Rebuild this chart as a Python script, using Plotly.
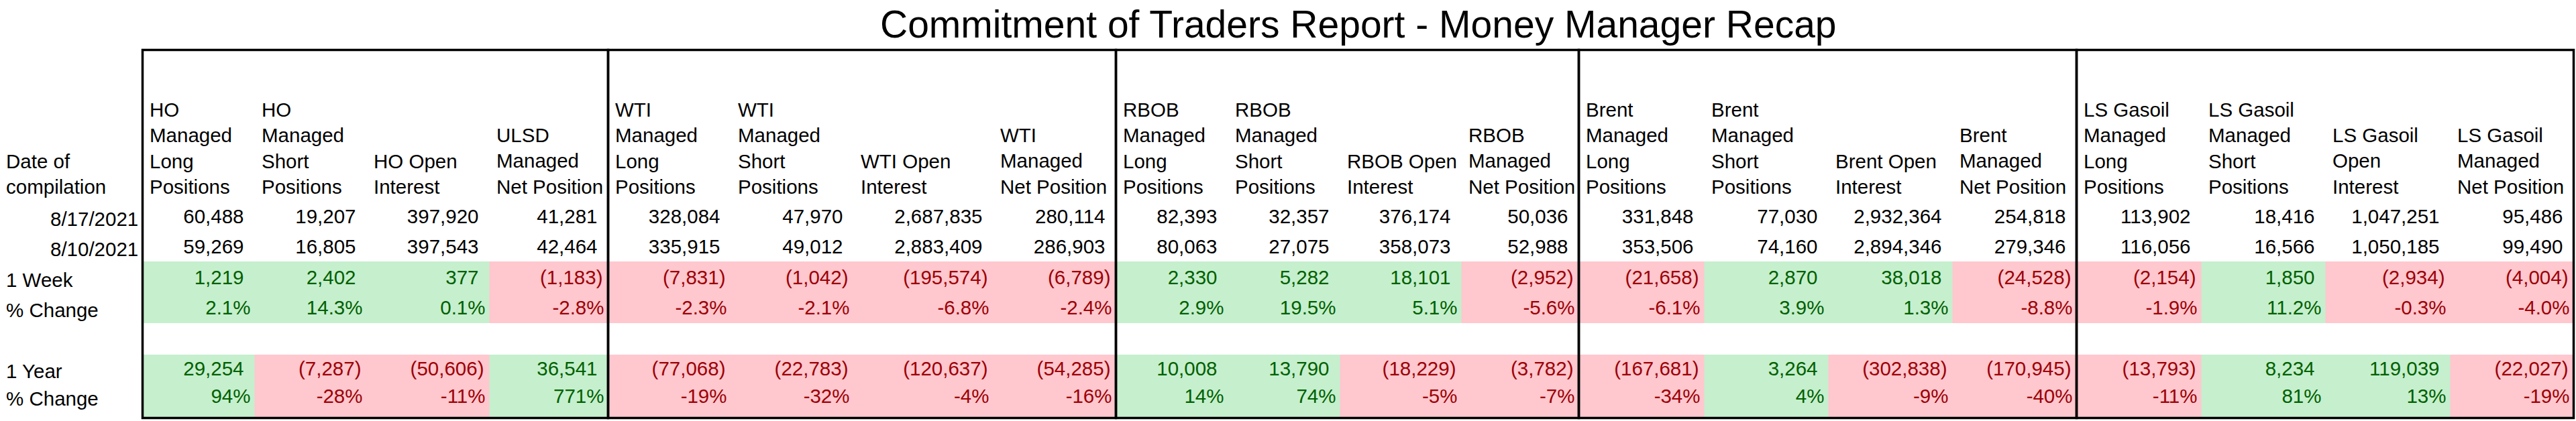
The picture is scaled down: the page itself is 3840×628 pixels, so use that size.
import numpy as np
import plotly.graph_objects as go

TITLE = "Commitment of Traders Report - Money Manager Recap"

HEADERS = [
    "HO<br>Managed<br>Long<br>Positions", "HO<br>Managed<br>Short<br>Positions",
    "HO Open<br>Interest", "ULSD<br>Managed<br>Net Position",
    "WTI<br>Managed<br>Long<br>Positions", "WTI<br>Managed<br>Short<br>Positions",
    "WTI Open<br>Interest", "WTI<br>Managed<br>Net Position",
    "RBOB<br>Managed<br>Long<br>Positions", "RBOB<br>Managed<br>Short<br>Positions",
    "RBOB Open<br>Interest", "RBOB<br>Managed<br>Net Position",
    "Brent<br>Managed<br>Long<br>Positions", "Brent<br>Managed<br>Short<br>Positions",
    "Brent Open<br>Interest", "Brent<br>Managed<br>Net Position",
    "LS Gasoil<br>Managed<br>Long<br>Positions", "LS Gasoil<br>Managed<br>Short<br>Positions",
    "LS Gasoil<br>Open<br>Interest", "LS Gasoil<br>Managed<br>Net Position",
]
DATE_HEADER = "Date of<br>compilation"
DATES = ["8/17/2021", "8/10/2021"]
CHANGE_LABELS = ["1 Week", "% Change", "1 Year", "% Change"]

CUR = [60488, 19207, 397920, 41281, 328084, 47970, 2687835, 280114,
       82393, 32357, 376174, 50036, 331848, 77030, 2932364, 254818,
       113902, 18416, 1047251, 95486]
PREV = [59269, 16805, 397543, 42464, 335915, 49012, 2883409, 286903,
        80063, 27075, 358073, 52988, 353506, 74160, 2894346, 279346,
        116056, 16566, 1050185, 99490]
WEEK_CHG = [1219, 2402, 377, -1183, -7831, -1042, -195574, -6789,
            2330, 5282, 18101, -2952, -21658, 2870, 38018, -24528,
            -2154, 1850, -2934, -4004]
WEEK_PCT = [2.1, 14.3, 0.1, -2.8, -2.3, -2.1, -6.8, -2.4,
            2.9, 19.5, 5.1, -5.6, -6.1, 3.9, 1.3, -8.8,
            -1.9, 11.2, -0.3, -4.0]
YEAR_CHG = [29254, -7287, -50606, 36541, -77068, -22783, -120637, -54285,
            10008, 13790, -18229, -3782, -167681, 3264, -302838, -170945,
            -13793, 8234, 119039, -22027]
YEAR_PCT = [94, -28, -11, 771, -19, -32, -4, -16,
            14, 74, -5, -7, -34, 4, -9, -40,
            -11, 81, 13, -19]

# ---- layout / style constants ----
W, H = 3840, 628
FONT = "Liberation Sans, Arial, sans-serif"
FS = 29.5
TITLE_FS = 57
TABLE_LEFT = 212.5
COL_WIDTHS = [167, 167, 183, 177, 183, 183, 208, 183, 167, 167, 181, 175,
              187, 185, 185, 185, 186, 185, 186, 184]
GROUP_SIZE = 4
TOP_Y, BOT_Y = 74.5, 623.5
HEADER_BASELINE = 290
TITLE_BASELINE = 57
ROW_Y = [326, 371, 417, 462, 553, 594]
BAND_EDGES = [390, 482, 529, 623]
GREEN_FILL, RED_FILL = "#C6EFCE", "#FFC7CE"
GREEN_TXT, RED_TXT = "#006100", "#9C0006"

edges = TABLE_LEFT + np.concatenate([[0], np.cumsum(COL_WIDTHS)])
lefts, rights = edges[:-1], edges[1:]


def fmt_num(v):
    return f"{v:,}" if v >= 0 else f"({-v:,})"


def fmt_pct(v, d):
    return f"{v:.{d}f}%"


fig = go.Figure()

# Conditional fills (sign of change) as a heatmap on bin edges
sign_w = [1 if v >= 0 else -1 for v in WEEK_CHG]
sign_y = [1 if v >= 0 else -1 for v in YEAR_CHG]
fig.add_trace(go.Heatmap(
    x=edges, y=BAND_EDGES, z=[sign_w, [None] * len(sign_w), sign_y],
    zmin=-1, zmax=1, showscale=False, hoverinfo="skip",
    colorscale=[[0, RED_FILL], [0.5, RED_FILL], [0.5, GREEN_FILL], [1, GREEN_FILL]],
))

# value text rows
rows = [
    ([fmt_num(v) for v in CUR], ["#000000"] * len(CUR), CUR, False),
    ([fmt_num(v) for v in PREV], ["#000000"] * len(PREV), PREV, False),
    ([fmt_num(v) for v in WEEK_CHG], [GREEN_TXT if v >= 0 else RED_TXT for v in WEEK_CHG], WEEK_CHG, False),
    ([fmt_pct(v, 1) for v in WEEK_PCT], [GREEN_TXT if v >= 0 else RED_TXT for v in WEEK_CHG], WEEK_PCT, True),
    ([fmt_num(v) for v in YEAR_CHG], [GREEN_TXT if v >= 0 else RED_TXT for v in YEAR_CHG], YEAR_CHG, False),
    ([fmt_pct(v, 0) for v in YEAR_PCT], [GREEN_TXT if v >= 0 else RED_TXT for v in YEAR_CHG], YEAR_PCT, True),
]
for (texts, colors, vals, is_pct), ry in zip(rows, ROW_Y):
    xs = []
    for r, v in zip(rights, vals):
        if is_pct:
            xs.append(r - 6)
        elif v < 0:
            xs.append(r - 8)
        else:
            xs.append(r - 16)
    fig.add_trace(go.Scatter(
        x=xs, y=[ry] * len(xs), text=texts, mode="text",
        textposition="middle left",
        textfont=dict(family=FONT, size=FS, color=colors),
        hoverinfo="skip", showlegend=False,
    ))

annotations = []
# title
annotations.append(dict(
    text=TITLE, x=(edges[0] + edges[-1]) / 2, y=TITLE_BASELINE + 0.212 * TITLE_FS + 1,
    xref="x", yref="y", xanchor="center", yanchor="bottom", showarrow=False,
    font=dict(family=FONT, size=TITLE_FS, color="#000000"),
))
# column headers
for lx, htxt in zip(lefts, HEADERS):
    annotations.append(dict(
        text=htxt, x=lx + 8, y=HEADER_BASELINE + 0.212 * FS + 1,
        xref="x", yref="y", xanchor="left", yanchor="bottom", align="left",
        showarrow=False, font=dict(family=FONT, size=FS, color="#000000"),
    ))
annotations.append(dict(
    text=DATE_HEADER, x=7, y=HEADER_BASELINE + 0.212 * FS + 1,
    xref="x", yref="y", xanchor="left", yanchor="bottom", align="left",
    showarrow=False, font=dict(family=FONT, size=FS, color="#000000"),
))
for d, ry in zip(DATES, ROW_Y[:2]):
    annotations.append(dict(
        text=d, x=edges[0] - 5, y=ry, xref="x", yref="y",
        xanchor="right", yanchor="middle", showarrow=False,
        font=dict(family=FONT, size=FS, color="#000000"),
    ))
for lab, ry in zip(CHANGE_LABELS, ROW_Y[2:]):
    annotations.append(dict(
        text=lab, x=7, y=ry, xref="x", yref="y",
        xanchor="left", yanchor="middle", showarrow=False,
        font=dict(family=FONT, size=FS, color="#000000"),
    ))

# section borders
shapes = []
for g in range(0, len(COL_WIDTHS), GROUP_SIZE):
    shapes.append(dict(
        type="rect", xref="x", yref="y",
        x0=edges[g], x1=edges[g + GROUP_SIZE], y0=TOP_Y, y1=BOT_Y,
        line=dict(color="#000000", width=3.5), fillcolor="rgba(0,0,0,0)",
        layer="above",
    ))

fig.update_layout(
    width=W, height=H,
    margin=dict(l=0, r=0, t=0, b=0),
    paper_bgcolor="#FFFFFF", plot_bgcolor="#FFFFFF",
    xaxis=dict(range=[0, W], visible=False, fixedrange=True),
    yaxis=dict(range=[H, 0], visible=False, fixedrange=True),
    annotations=annotations, shapes=shapes,
    showlegend=False,
)

fig.write_html(
    "out.html",
    config={"displayModeBar": False},
    post_script="document.body.style.margin='0';document.body.style.overflow='hidden';",
)
